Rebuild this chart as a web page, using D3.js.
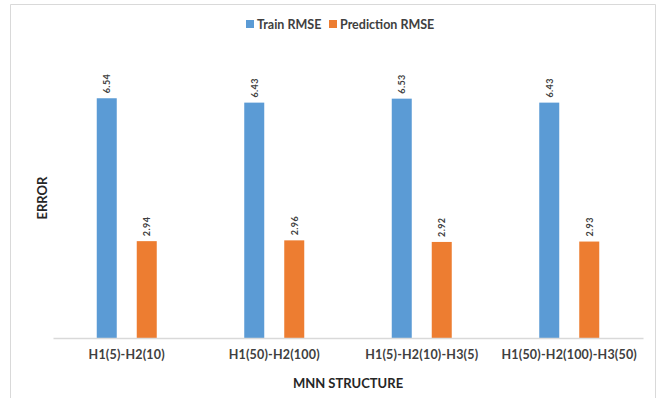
<!DOCTYPE html>
<html>
<head>
<meta charset="utf-8">
<script src="https://cdn.jsdelivr.net/npm/d3@7/dist/d3.min.js"></script>
<style>
  html, body { margin: 0; padding: 0; background: #fff; }
  svg { display: block; font-family: Lato, "Open Sans", sans-serif; }
</style>
</head>
<body>
<svg id="chart" width="660" height="398"></svg>
<script>
// Network structures compared
const categories = ["H1(5)-H2(10)", "H1(50)-H2(100)", "H1(5)-H2(10)-H3(5)", "H1(50)-H2(100)-H3(50)"];
// Error per structure
const trainRMSE = [6.54, 6.43, 6.53, 6.43];
const predictionRMSE = [2.94, 2.96, 2.92, 2.93];
const seriesNames = ["Train RMSE", "Prediction RMSE"];
const seriesColors = ["#5B9BD5", "#ED7D31"];

const svg = d3.select("#chart");

// Outer frame
svg.append("path")
  .attr("d", "M10.5,400 V4.5 H655.5 V400")
  .attr("fill", "none")
  .attr("stroke", "#d9d9d9")
  .attr("stroke-width", 1);

const x0 = d3.scaleBand().domain(categories).range([53, 643]).padding(0);
const x1 = d3.scaleBand().domain(seriesNames).range([-30, 30]).paddingInner(0.5).paddingOuter(0);
const y = d3.scaleLinear().domain([0.5, 7]).range([338, 80]);

const rows = categories.map((c, i) => ({
  cat: c,
  vals: [
    { s: seriesNames[0], v: trainRMSE[i], color: seriesColors[0] },
    { s: seriesNames[1], v: predictionRMSE[i], color: seriesColors[1] }
  ]
}));

const groups = svg.append("g").selectAll("g")
  .data(rows).join("g")
  .attr("transform", d => `translate(${x0(d.cat) + x0.bandwidth() / 2},0)`);

groups.selectAll("rect")
  .data(d => d.vals).join("rect")
  .attr("x", d => x1(d.s))
  .attr("width", x1.bandwidth())
  .attr("y", d => y(d.v))
  .attr("height", d => y(y.domain()[0]) - y(d.v))
  .attr("fill", d => d.color);

groups.selectAll("text.val")
  .data(d => d.vals).join("text")
  .attr("class", "val")
  .attr("transform", d => `translate(${x1(d.s) + x1.bandwidth() / 2 + 3.5},${y(d.v) - 5}) rotate(-90)`)
  .attr("font-size", 9)
  .attr("font-weight", 700)
  .attr("letter-spacing", 0.4)
  .attr("fill", "#404040")
  .text(d => d.v.toFixed(2));

// Category axis
const xAxis = d3.axisBottom(x0).tickSize(0).tickPadding(12);
const gx = svg.append("g").attr("transform", "translate(0,338)").call(xAxis);
gx.select(".domain").attr("stroke", "#d9d9d9").attr("stroke-width", 1.3);
gx.selectAll("text")
  .attr("font-family", "Lato, sans-serif")
  .attr("font-size", 12.5)
  .attr("font-weight", 700)
  .attr("letter-spacing", 0.2)
  .attr("fill", "#404040");

// Axis titles
svg.append("text")
  .attr("x", 348).attr("y", 388)
  .attr("text-anchor", "middle")
  .attr("font-size", 13)
  .attr("font-weight", 700)
  .attr("fill", "#262626")
  .text("MNN STRUCTURE");

svg.append("text")
  .attr("transform", "translate(47,198) rotate(-90)")
  .attr("text-anchor", "middle")
  .attr("font-size", 13)
  .attr("font-weight", 700)
  .attr("fill", "#262626")
  .text("ERROR");

// Legend
const legendX = [246, 329];
const legend = svg.append("g").selectAll("g")
  .data(seriesNames).join("g")
  .attr("transform", (d, i) => `translate(${legendX[i]},20)`);
legend.append("rect")
  .attr("width", 8).attr("height", 8)
  .attr("fill", (d, i) => seriesColors[i]);
legend.append("text")
  .attr("x", 11).attr("y", 8.5)
  .attr("font-size", 12.5)
  .attr("font-weight", 700)
  .attr("fill", "#404040")
  .text(d => d);
</script>
</body>
</html>
